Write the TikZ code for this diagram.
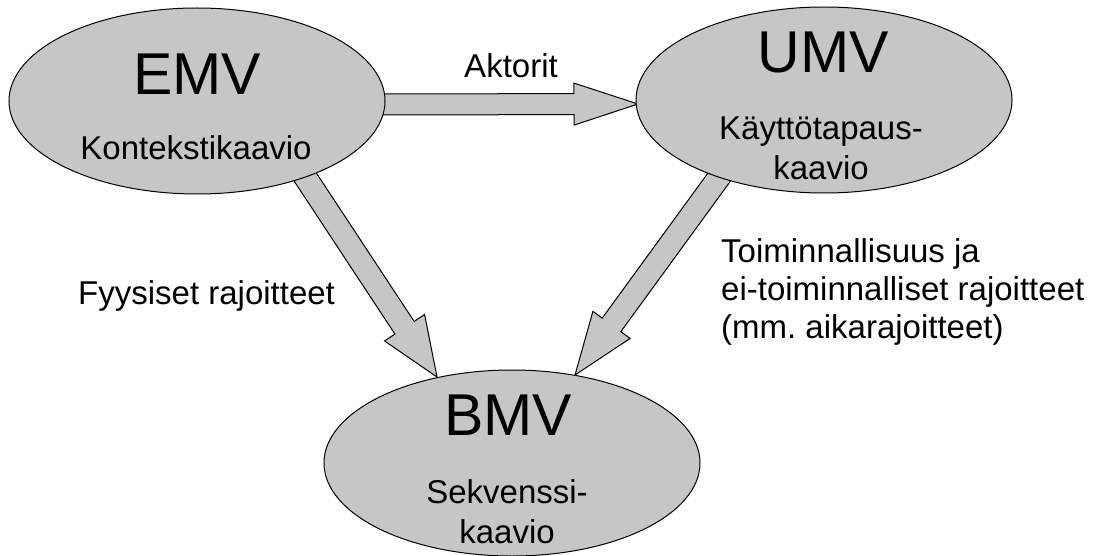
\documentclass[tikz,border=0pt]{standalone}
\usepackage{fontspec}
\setmainfont{Liberation Sans}
\usetikzlibrary{calc,shapes.geometric,backgrounds}

\definecolor{bubblegray}{RGB}{198,198,198}

\tikzset{
  bubble/.style={ellipse, draw=black, fill=bubblegray, line width=1pt,
    minimum width=376pt, minimum height=186pt, inner sep=0pt},
  title/.style={font=\fontsize{59}{59}\selectfont, anchor=base, inner sep=0pt},
  % multi-line nodes: the base anchor sits on the last line
  subtitle/.style={font=\fontsize{33}{40}\selectfont, align=center, anchor=base, inner sep=0pt},
  flowlabel/.style={font=\fontsize{33}{38}\selectfont, align=left, anchor=base west, inner sep=0pt},
  blockarrow/.style={draw=black, fill=bubblegray, line width=1pt, line join=miter},
}

% block arrow: tail, tip, half shaft width, half head width, head length
\newcommand\blockarrow[5]{%
  \coordinate (#2-neck) at ($(#2)!#5!(#1)$);
  \draw[blockarrow]
    ($(#1)!#3!90:(#2)$) -- ($(#2-neck)!#3!90:(#2)$) -- ($(#2-neck)!#4!90:(#2)$)
    -- (#2)
    -- ($(#2-neck)!#4!-90:(#2)$) -- ($(#2-neck)!#3!-90:(#2)$) -- ($(#1)!#3!-90:(#2)$)
    -- cycle;
}

\begin{document}
\frenchspacing
\begin{tikzpicture}[x=1pt, y=-1pt]
  \useasboundingbox (0,0) rectangle (1094,556);

  % the three models
  \node[bubble] (emv) at (197,101) {};
  \node[bubble] (umv) at (824,100) {};
  \node[bubble] (bmv) at (512,463) {};

  \node[title] (emvT) at (197,95) {EMV};
  \node[subtitle] (emvS) at (196,160) {Kontekstikaavio};
  \node[title] (umvT) at (823,73) {UMV};
  \node[subtitle] (umvS) at (821,180) {Käyttötapaus-\\kaavio};
  \node[title] (bmvT) at (508,435) {BMV};
  \node[subtitle] (bmvS) at (507,543) {Sekvenssi-\\kaavio};

  % flows between the models, behind the ellipses
  \coordinate (aT) at (360,104.5);
  \coordinate (aH) at (638,104);
  \coordinate (bT) at (294,160);
  \coordinate (bH) at (437,377);
  \coordinate (cT) at (728,165);
  \coordinate (cH) at (575,375);
  \begin{scope}[on background layer]
    \blockarrow{aT}{aH}{10.5pt}{21pt}{64pt}
    \blockarrow{bT}{bH}{11.5pt}{24pt}{59pt}
    \blockarrow{cT}{cH}{11.5pt}{23pt}{62pt}
  \end{scope}

  % flow labels
  \node[font=\fontsize{33}{38}\selectfont, anchor=base, inner sep=0pt] (lblA) at (511,78) {Aktorit};
  \node[flowlabel] (lblB) at (78,304) {Fyysiset rajoitteet};
  \node[flowlabel] (lblC) at (721,338) {Toiminnallisuus ja\\ei-toiminnalliset rajoitteet\\(mm. aikarajoitteet)};
\end{tikzpicture}
\end{document}
